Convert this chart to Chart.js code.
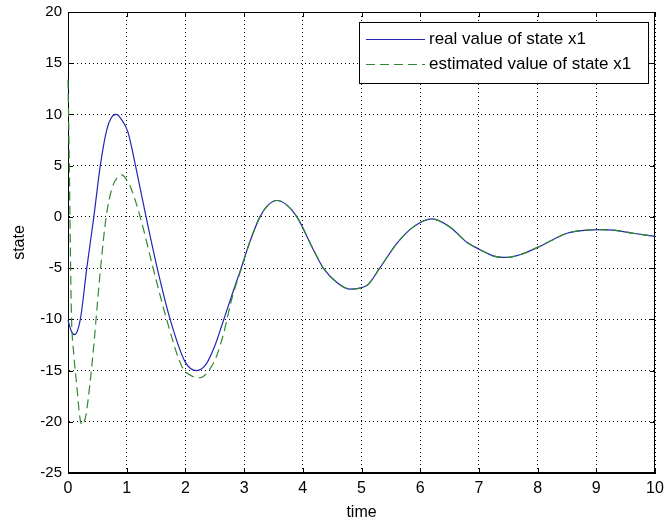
<!DOCTYPE html>
<html>
<head>
<meta charset="utf-8">
<script src="https://cdn.jsdelivr.net/npm/chart.js@4.4.1/dist/chart.umd.min.js"></script>
<style>
  html, body { margin: 0; padding: 0; background: #fff; }
  #wrap { width: 664px; height: 525px; }
</style>
</head>
<body>
<div id="wrap"><canvas id="chart"></canvas></div>
<script>
// values
const timeReal = [0, 0.06, 0.11, 0.21, 0.32, 0.44, 0.55, 0.66, 0.74, 0.82, 0.9, 1.02, 1.15, 1.33, 1.52, 1.74, 2.0, 2.19, 2.35, 2.5, 2.62, 2.8, 2.95, 3.1, 3.27, 3.4, 3.56, 3.72, 3.9, 4.18, 4.35, 4.58, 4.8, 5.09, 5.31, 5.6, 5.88, 6.2, 6.51, 6.8, 7.02, 7.24, 7.48, 7.7, 7.99, 8.27, 8.5, 8.84, 9.05, 9.29, 9.63, 10];
const stateReal = [-10.1, -11.2, -11.5, -10, -5, 0, 5, 8.5, 9.7, 10, 9.6, 8.3, 5, 0, -5, -10, -14.2, -15, -14.4, -12.6, -10.6, -7.5, -5, -2.4, 0, 1.1, 1.6, 1.2, 0, -3.2, -5, -6.4, -7.05, -6.7, -5, -2.6, -1.0, -0.2, -1.0, -2.5, -3.2, -3.8, -3.95, -3.7, -3.0, -2.2, -1.6, -1.3, -1.25, -1.3, -1.6, -1.9];

const timeEst = [0, 0.02, 0.04, 0.056, 0.1, 0.15, 0.2, 0.24, 0.3, 0.37, 0.44, 0.5, 0.56, 0.65, 0.75, 0.85, 0.92, 1.0, 1.06, 1.23, 1.45, 1.68, 1.94, 2.1, 2.25, 2.4, 2.53, 2.65, 2.8, 2.95, 3.1, 3.27, 3.4, 3.56, 3.72, 3.9, 4.18, 4.35, 4.58, 4.8, 5.09, 5.31, 5.6, 5.88, 6.2, 6.51, 6.8, 7.02, 7.24, 7.48, 7.7, 7.99, 8.27, 8.5, 8.84, 9.05, 9.29, 9.63, 10];
const stateEst = [13.4, 6, -3, -9, -13.5, -16.5, -19.5, -20.3, -19.5, -16.5, -12.5, -8.5, -4.7, 0, 2.8, 3.9, 4.1, 3.6, 3, 0, -5, -10, -14.6, -15.5, -15.7, -15, -13.6, -11.4, -7.8, -5.1, -2.4, 0, 1.1, 1.6, 1.2, 0, -3.2, -5, -6.4, -7.05, -6.7, -5, -2.6, -1.0, -0.2, -1.0, -2.5, -3.2, -3.8, -3.95, -3.7, -3.0, -2.2, -1.6, -1.3, -1.25, -1.3, -1.6, -1.9];

const seriesNames = ["real value of state x1", "estimated value of state x1"];
const xLimits = [0, 10];
const yLimits = [-25, 20];

const FONT = "'Liberation Sans', Arial, sans-serif";

const toPoints = (xs, ys) => xs.map((x, i) => ({ x, y: ys[i] }));

// MATLAB style: box round the axes, ticks pointing inward
const boxPlugin = {
  id: "box",
  beforeDatasetsDraw(chart) {
    const { ctx, chartArea: a, scales } = chart;
    ctx.save();
    ctx.strokeStyle = "#000";
    ctx.lineWidth = 1;
    ctx.strokeRect(a.left + 0.5, a.top + 0.5, a.right - a.left - 1, a.bottom - a.top - 1);
    ctx.beginPath();
    scales.x.ticks.forEach(t => {
      const px = Math.round(scales.x.getPixelForValue(t.value)) + 0.5;
      ctx.moveTo(px, a.bottom); ctx.lineTo(px, a.bottom - 5);
      ctx.moveTo(px, a.top); ctx.lineTo(px, a.top + 5);
    });
    scales.y.ticks.forEach(t => {
      const py = Math.round(scales.y.getPixelForValue(t.value)) + 0.5;
      ctx.moveTo(a.left, py); ctx.lineTo(a.left + 5, py);
      ctx.moveTo(a.right, py); ctx.lineTo(a.right - 5, py);
    });
    ctx.stroke();
    ctx.restore();
  }
};

// legend box in the top right corner of the axes
const legendPlugin = {
  id: "boxLegend",
  afterDraw(chart) {
    const ctx = chart.ctx;
    const x0 = 359, y0 = 22, w = 289, h = 61;
    ctx.save();
    ctx.fillStyle = "#fff";
    ctx.fillRect(x0, y0, w, h);
    ctx.strokeStyle = "#000";
    ctx.lineWidth = 1;
    ctx.strokeRect(x0 + 0.5, y0 + 0.5, w, h);
    ctx.font = "17px " + FONT;
    ctx.textBaseline = "middle";
    chart.data.datasets.forEach((ds, i) => {
      const y = y0 + 17 + i * 25;
      ctx.strokeStyle = ds.borderColor;
      ctx.lineWidth = ds.borderWidth;
      ctx.setLineDash(ds.borderDash || []);
      ctx.beginPath();
      ctx.moveTo(x0 + 7, y + 0.5);
      ctx.lineTo(x0 + 66, y + 0.5);
      ctx.stroke();
      ctx.setLineDash([]);
      ctx.fillStyle = "#000";
      ctx.fillText(ds.label, x0 + 70, y);
    });
    ctx.restore();
  }
};

new Chart(document.getElementById("chart"), {
  type: "line",
  data: {
    datasets: [
      {
        label: seriesNames[0],
        data: toPoints(timeReal, stateReal),
        borderColor: "#2424b8",
        borderWidth: 1.2,
        pointRadius: 0,
        cubicInterpolationMode: "monotone",
        fill: false,
        clip: 4,
        order: 2
      },
      {
        label: seriesNames[1],
        data: toPoints(timeEst, stateEst),
        borderColor: "#2f8a2f",
        borderWidth: 1.2,
        borderDash: [9, 5],
        pointRadius: 0,
        cubicInterpolationMode: "monotone",
        fill: false,
        clip: 4,
        order: 1
      }
    ]
  },
  options: {
    responsive: true,
    maintainAspectRatio: false,
    animation: false,
    layout: { padding: { top: 12, right: 9, left: 0, bottom: 0 } },
    plugins: {
      legend: { display: false },
      tooltip: { enabled: false }
    },
    scales: {
      x: {
        type: "linear",
        min: xLimits[0],
        max: xLimits[1],
        afterFit: s => {
          s.height = 52;
          s.paddingLeft = 0;
          s.paddingRight = 0;
        },
        ticks: {
          stepSize: 1,
          color: "#000",
          padding: 6,
          maxRotation: 0,
          font: { family: FONT, size: 16 }
        },
        grid: { color: "#000", lineWidth: 1, drawTicks: false },
        border: { display: true, color: "#000", dash: [1, 3] },
        title: {
          display: true,
          text: "time",
          color: "#000",
          font: { family: FONT, size: 16 },
          padding: { top: 0, bottom: 3 }
        }
      },
      y: {
        type: "linear",
        min: yLimits[0],
        max: yLimits[1],
        afterFit: s => {
          s.width = 68;
          s.paddingTop = 0;
          s.paddingBottom = 0;
        },
        ticks: {
          stepSize: 5,
          color: "#000",
          padding: 6,
          font: { family: FONT, size: 15 }
        },
        grid: { color: "#000", lineWidth: 1, drawTicks: false },
        border: { display: true, color: "#000", dash: [1, 3] },
        title: {
          display: true,
          text: "state",
          color: "#000",
          font: { family: FONT, size: 16 },
          padding: { top: 10, bottom: 0 }
        }
      }
    }
  },
  plugins: [boxPlugin, legendPlugin]
});
</script>
</body>
</html>
